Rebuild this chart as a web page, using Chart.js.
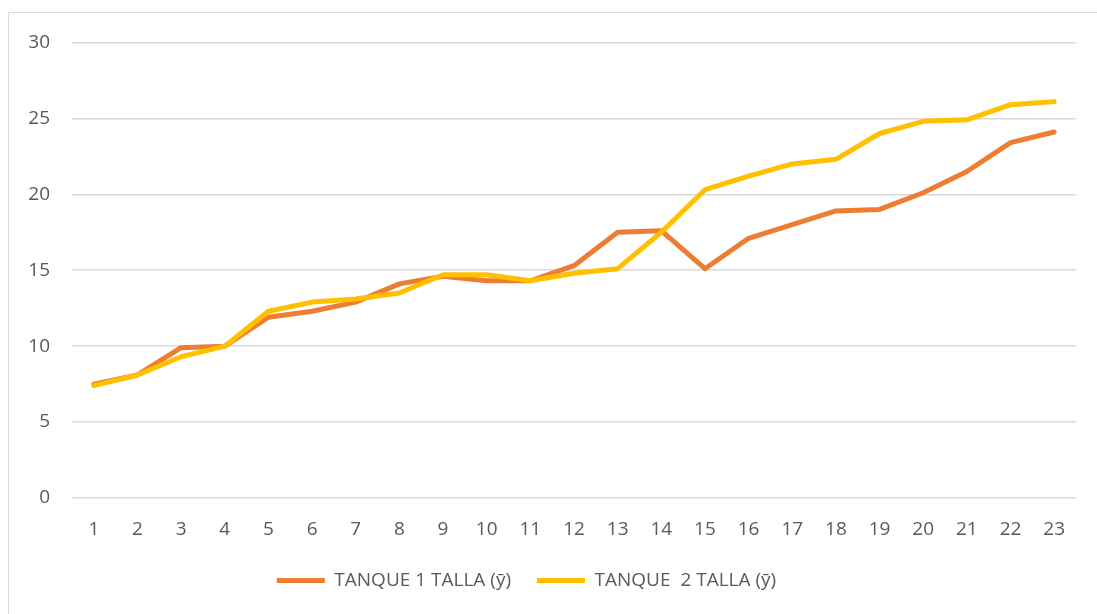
<!DOCTYPE html>
<html>
<head>
<meta charset="utf-8">
<script src="https://cdn.jsdelivr.net/npm/chart.js@4"></script>
<style>
  html, body { margin: 0; padding: 0; background: #fff; overflow: hidden; }
  #cadre {
    position: absolute; left: 8px; top: 12px;
    width: 1095px; height: 608px;
    border: 1px solid #d9d9d9;
  }
  #zone { position: absolute; left: 0; top: -4px; width: 1088px; height: 605px; }
</style>
</head>
<body>
<div id="cadre"><div id="zone"><canvas id="graphique"></canvas></div></div>
<script>
// Données
const semaines = ['1','2','3','4','5','6','7','8','9','10','11','12','13','14','15','16','17','18','19','20','21','22','23'];
const tanque1 = [7.5, 8.1, 9.9, 10.0, 11.9, 12.3, 12.9, 14.1, 14.6, 14.3, 14.3, 15.3, 17.5, 17.6, 15.1, 17.1, 18.0, 18.9, 19.0, 20.1, 21.5, 23.4, 24.1];
const tanque2 = [7.4, 8.1, 9.3, 10.0, 12.3, 12.9, 13.1, 13.5, 14.7, 14.7, 14.3, 14.8, 15.1, 17.5, 20.3, 21.2, 22.0, 22.3, 24.0, 24.8, 24.9, 25.9, 26.1];
const etiquettes = ['TANQUE 1 TALLA (ȳ)', 'TANQUE  2 TALLA (ȳ)'];

const gris = '#595959';
const police = { family: "'Open Sans', 'Liberation Sans', sans-serif", size: 19 };

// décale la légende vers la gauche, comme dans l'original
const decalageLegende = {
  id: 'decalageLegende',
  afterLayout(chart) {
    if (chart.legend) {
      chart.legend.left -= 16;
      chart.legend.right -= 16;
    }
  }
};

const ctx = document.getElementById('graphique').getContext('2d');
new Chart(ctx, {
  type: 'line',
  data: {
    labels: semaines,
    datasets: [
      {
        label: etiquettes[0],
        data: tanque1,
        borderColor: '#ED7D31',
        backgroundColor: '#ED7D31',
        borderWidth: 5,
        borderCapStyle: 'round',
        borderJoinStyle: 'round',
        pointRadius: 0,
        tension: 0,
        order: 1
      },
      {
        label: etiquettes[1],
        data: tanque2,
        borderColor: '#FFC000',
        backgroundColor: '#FFC000',
        borderWidth: 5,
        borderCapStyle: 'round',
        borderJoinStyle: 'round',
        pointRadius: 0,
        tension: 0,
        order: 0
      }
    ]
  },
  plugins: [decalageLegende],
  options: {
    responsive: true,
    maintainAspectRatio: false,
    animation: false,
    layout: { padding: { left: 0, right: 21, top: 25, bottom: 14 } },
    plugins: {
      tooltip: { enabled: false },
      legend: {
        position: 'bottom',
        labels: {
          usePointStyle: true,
          pointStyle: 'line',
          pointStyleWidth: 48,
          color: gris,
          font: police,
          padding: 26,
          sort: (a, b) => a.datasetIndex - b.datasetIndex
        }
      }
    },
    scales: {
      x: {
        offset: true,
        grid: { display: false, drawTicks: false },
        border: { display: false },
        ticks: { color: gris, font: police, padding: 20, maxRotation: 0, autoSkip: false },
        afterFit: (axe) => { axe.height = 47; }
      },
      y: {
        min: 0,
        max: 30,
        ticks: { stepSize: 5, color: gris, font: police, padding: 22 },
        grid: { color: '#d9d9d9', lineWidth: 1.5, drawTicks: false },
        border: { display: false },
        afterFit: (axe) => { axe.width = 63; }
      }
    }
  }
});
</script>
</body>
</html>
